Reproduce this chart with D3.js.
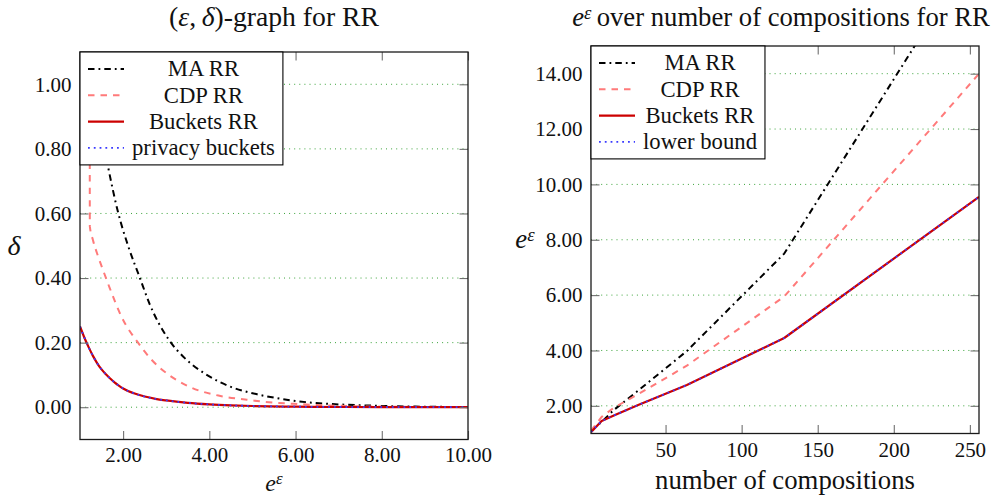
<!DOCTYPE html>
<html><head><meta charset="utf-8">
<script src="https://cdn.jsdelivr.net/npm/d3@7"></script>
<style>
body{margin:0;background:#fff;}
svg{display:block;}
svg text{font-family:'Liberation Serif','Tinos','DejaVu Serif','Noto Serif',serif;}
</style></head><body>
<svg id="c" width="1000" height="496"></svg>
<script>
// ---------- Left chart data: delta over e^eps ----------
const maX      = [1.3, 1.45, 1.65, 1.88, 2.12, 2.39, 2.62, 3.05, 3.43, 3.98, 4.44, 5.14, 5.57, 5.96, 6.74, 7.51, 8.29, 9.06, 10];
const maDelta  = [1.02, 0.885, 0.745, 0.605, 0.498, 0.40, 0.318, 0.211, 0.152, 0.097, 0.066, 0.039, 0.028, 0.020, 0.0105, 0.006, 0.003, 0.0015, 0.0005];
const cdpX     = [1.225, 1.228, 1.3, 1.42, 1.53, 1.69, 1.96, 2.35, 2.66, 3.05, 3.51, 4.21, 4.83, 5.19, 5.57, 5.96, 6.74, 8, 9, 10];
const cdpDelta = [1.3, 0.56, 0.518, 0.467, 0.426, 0.369, 0.281, 0.199, 0.147, 0.101, 0.065, 0.036, 0.024, 0.018, 0.0136, 0.0105, 0.0055, 0.0017, 0.0007, 0.0002];
const bucketX     = [1, 1.1, 1.2, 1.3, 1.4, 1.5, 1.6, 1.7, 1.8, 1.9, 2.0, 2.25, 2.5, 2.75, 3.0, 3.5, 4.0, 4.5, 5, 6, 7, 8, 9, 10];
const bucketDelta = [0.25, 0.216, 0.186, 0.159, 0.136, 0.117, 0.102, 0.089, 0.077, 0.067, 0.058, 0.043, 0.033, 0.026, 0.021, 0.0135, 0.0088, 0.0057, 0.0037, 0.0016, 0.0007, 0.0003, 0.00013, 0.00005];
const pbX         = [1, 1.1, 1.2, 1.3, 1.4, 1.5, 1.6, 1.7, 1.8, 1.9, 2.0, 2.25, 2.5, 2.75, 3.0, 3.5, 4.0, 4.5, 5, 6, 7, 8, 9, 10];
const pbDelta     = [0.25, 0.216, 0.186, 0.159, 0.136, 0.117, 0.102, 0.089, 0.077, 0.067, 0.058, 0.043, 0.033, 0.026, 0.021, 0.0135, 0.0088, 0.0057, 0.0037, 0.0016, 0.0007, 0.0003, 0.00013, 0.00005];
const leftXTicks = [2, 4, 6, 8, 10];
const leftYTicks = [0, 0.2, 0.4, 0.6, 0.8, 1.0];
const leftLegend = ["MA RR", "CDP RR", "Buckets RR", "privacy buckets"];

// ---------- Right chart data: e^eps over number of compositions ----------
const compositions = [1, 8, 16, 32, 64, 128, 256];
const maEps      = [1.1, 1.42, 1.85, 2.55, 3.98, 7.5, 18.7];
const cdpEps     = [1.1, 1.6, 1.93, 2.42, 3.45, 5.95, 14.0];
const bucketEps  = [1.05, 1.45, 1.65, 2.03, 2.75, 4.45, 9.55];
const lowerEps   = [1.05, 1.45, 1.65, 2.03, 2.75, 4.45, 9.55];
const rightXTicks = [50, 100, 150, 200, 250];
const rightYTicks = [2, 4, 6, 8, 10, 12, 14];
const rightLegend = ["MA RR", "CDP RR", "Buckets RR", "lower bound"];

// ---------- styles ----------
const styles = [
  {stroke: "#000000", width: 2.0, dash: "6.5,4,1.8,4"},
  {stroke: "#ff7a7a", width: 2.0, dash: "6.5,6"},
  {stroke: "#cc0000", width: 2.2, dash: null},
  {stroke: "#3a3aff", width: 1.8, dash: "1.8,4"}
];

const svg = d3.select("#c");

function fitSize(str, target) {
  const t = svg.append("text").attr("font-size", 100).text(str);
  const w = t.node().getComputedTextLength();
  t.remove();
  return 100 * target / w;
}
const tickFs   = fitSize("0.60", 36.7);
const legendFs = fitSize("privacy buckets", 143);
const labelFs  = fitSize("number of compositions", 260);

let clipId = 0;
function panel(cfg) {
  const {l, r, t, b} = cfg.box;
  const x = d3.scaleLinear().domain(cfg.xDomain).range([l, r]);
  const y = d3.scaleLinear().domain(cfg.yDomain).range([b, t]);
  const g = svg.append("g");

  g.append("g").selectAll("line").data(cfg.yTicks).join("line")
    .attr("x1", l).attr("x2", r)
    .attr("y1", d => y(d)).attr("y2", d => y(d))
    .attr("stroke", "#3aa33a").attr("stroke-width", 1)
    .attr("stroke-dasharray", "1,4.1");

  const id = "clip" + (clipId++);
  svg.append("clipPath").attr("id", id).append("rect")
    .attr("x", l).attr("y", t).attr("width", r - l).attr("height", b - t);

  const lineGen = d3.line().x(d => x(d[0])).y(d => y(d[1])).curve(cfg.curve);
  const lines = g.append("g").attr("clip-path", `url(#${id})`);
  cfg.series.forEach((s, i) => {
    const st = styles[i];
    lines.append("path")
      .attr("d", lineGen(d3.zip(s[0], s[1])))
      .attr("fill", "none")
      .attr("stroke", st.stroke)
      .attr("stroke-width", st.width)
      .attr("stroke-dasharray", st.dash)
      .attr("stroke-linejoin", "round");
  });

  const tickLen = -8.5;
  const styleAxis = sel => {
    sel.attr("font-family", null).attr("font-size", null);
    sel.select(".domain").remove();
    sel.selectAll(".tick line").attr("stroke", "#707070").attr("stroke-width", 1.1);
    sel.selectAll("text").attr("font-size", tickFs).attr("fill", "#111");
  };
  g.append("g").attr("transform", `translate(0,${b})`)
    .call(d3.axisBottom(x).tickValues(cfg.xTicks).tickSize(tickLen).tickPadding(cfg.xPad).tickFormat(cfg.xFormat))
    .call(styleAxis);
  g.append("g").attr("transform", `translate(0,${t})`)
    .call(d3.axisTop(x).tickValues(cfg.xTicks).tickSize(tickLen).tickFormat(""))
    .call(styleAxis);
  g.append("g").attr("transform", `translate(${l},0)`)
    .call(d3.axisLeft(y).tickValues(cfg.yTicks).tickSize(tickLen).tickPadding(8.5).tickFormat(d3.format(".2f")))
    .call(styleAxis);
  g.append("g").attr("transform", `translate(${r},0)`)
    .call(d3.axisRight(y).tickValues(cfg.yTicks).tickSize(tickLen).tickFormat(""))
    .call(styleAxis);

  g.append("rect").attr("x", l).attr("y", t).attr("width", r - l).attr("height", b - t)
    .attr("fill", "none").attr("stroke", "#1a1a1a").attr("stroke-width", 1.3);

  const lg = g.append("g");
  const rowH = 26.3, first = 17;
  const box = lg.append("rect").attr("x", l).attr("y", t)
    .attr("fill", "#fff").attr("stroke", "#000").attr("stroke-width", 1.1);
  const texts = [];
  cfg.legend.forEach((name, i) => {
    const st = styles[i];
    const cy = t + first + i * rowH;
    lg.append("line").attr("x1", l + 8).attr("x2", l + 44).attr("y1", cy).attr("y2", cy)
      .attr("stroke", st.stroke).attr("stroke-width", st.width).attr("stroke-dasharray", st.dash);
    texts.push(lg.append("text").attr("y", cy + 7.3).attr("font-size", legendFs)
      .attr("text-anchor", "middle").attr("fill", "#111").text(name));
  });
  const maxW = d3.max(texts, tx => tx.node().getComputedTextLength());
  const boxW = 44 + maxW + 16;
  texts.forEach(tx => tx.attr("x", l + 44 + (maxW + 16) / 2));
  box.attr("width", boxW).attr("height", first * 2 + rowH * 3);
}

panel({
  box: {l: 80, r: 468, t: 52, b: 439.5},
  xDomain: [1, 10], yDomain: [-0.1, 1.1],
  xTicks: leftXTicks, yTicks: leftYTicks,
  xFormat: d3.format(".2f"), xPad: 8,
  curve: d3.curveMonotoneX,
  series: [[maX, maDelta], [cdpX, cdpDelta], [bucketX, bucketDelta], [pbX, pbDelta]],
  legend: leftLegend
});

panel({
  box: {l: 591, r: 979, t: 46, b: 433.5},
  xDomain: [1, 256], yDomain: [1, 15],
  xTicks: rightXTicks, yTicks: rightYTicks,
  xFormat: d3.format("d"), xPad: 8.5,
  curve: d3.curveLinear,
  series: [[compositions, maEps], [compositions, cdpEps], [compositions, bucketEps], [compositions, lowerEps]],
  legend: rightLegend
});

const T = svg.append("g").attr("fill", "#111");
function fitNode(sel, target) {
  sel.attr("font-size", 100);
  const w = sel.node().getComputedTextLength();
  sel.attr("font-size", 100 * target / w);
}
const t1 = T.append("text").attr("x", 274).attr("y", 26).attr("text-anchor", "middle");
t1.append("tspan").text("(");
t1.append("tspan").attr("font-style", "italic").text("ε");
t1.append("tspan").text(",\u2009");
t1.append("tspan").attr("font-style", "italic").text("δ");
t1.append("tspan").text(")-graph for RR");
fitNode(t1, 210);

const t2 = T.append("text").attr("x", 781).attr("y", 26).attr("text-anchor", "middle");
t2.append("tspan").attr("font-style", "italic").text("e");
t2.append("tspan").attr("font-style", "italic").attr("font-size", "70%").attr("dy", "-0.4em").text("ε");
t2.append("tspan").attr("dy", "0.28em").text("\u2009over number of compositions for RR");
fitNode(t2, 418);

T.append("text").attr("x", 14).attr("y", 255).attr("text-anchor", "middle")
  .attr("font-size", labelFs * 1.05).attr("font-style", "italic").text("δ");

function eEps(xp, yp, fs) {
  const tx = T.append("text").attr("x", xp).attr("y", yp).attr("text-anchor", "middle").attr("font-size", fs);
  tx.append("tspan").attr("font-style", "italic").text("e");
  tx.append("tspan").attr("font-style", "italic").attr("font-size", "70%").attr("dy", "-0.4em").text("ε");
  return tx;
}
eEps(274, 491, labelFs * 0.9);
eEps(525, 248, labelFs);

T.append("text").attr("x", 785).attr("y", 489).attr("text-anchor", "middle")
  .attr("font-size", labelFs).text("number of compositions");
</script>
</body></html>
